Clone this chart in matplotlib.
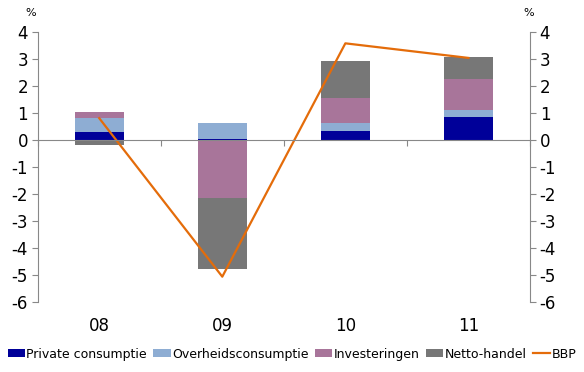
import matplotlib.pyplot as plt
import numpy as np

plt.rcParams['axes.unicode_minus'] = False

# data
years = ['08', '09', '10', '11']
private = [0.28, 0.03, 0.33, 0.86]
overheid = [0.55, 0.60, 0.31, 0.25]
investeringen = [0.20, -2.15, 0.90, 1.16]
netto = [-0.18, -2.64, 1.37, 0.82]
bbp = [0.81, -5.06, 3.58, 3.04]

series = [('Private consumptie', private, '#000099'),
          ('Overheidsconsumptie', overheid, '#8EADD3'),
          ('Investeringen', investeringen, '#A8759A'),
          ('Netto-handel', netto, '#777777')]

fig = plt.figure(figsize=(5.84, 3.72), dpi=100)
ax = fig.add_axes([0.0645, 0.188, 0.843, 0.726])
x = np.arange(len(years))

# stack positives and negatives separately
handles = []
pos_base = np.zeros(len(years))
neg_base = np.zeros(len(years))
for name, vals, col in series:
    vals = np.array(vals)
    base = np.where(vals >= 0, pos_base, neg_base)
    h = ax.bar(x, vals, 0.4, bottom=base, color=col, label=name)
    handles.append(h)
    pos_base = pos_base + np.clip(vals, 0, None)
    neg_base = neg_base + np.clip(vals, None, 0)

line, = ax.plot(x, bbp, color='#E46C0A', lw=1.6, label='BBP')
handles.append(line)

ax.set_xlim(-0.5, len(years) - 0.5)
ax.set_ylim(-6, 4)
ax.set_yticks(range(-6, 5))
ax.tick_params(axis='y', labelsize=12, length=4, color='#888888', pad=3)

for s in ['top', 'right']:
    ax.spines[s].set_visible(False)
ax.spines['left'].set_color('#888888')
ax.spines['bottom'].set_position(('data', 0))
ax.spines['bottom'].set_color('#888888')
ax.set_xticks(np.arange(-0.5, len(years)))
ax.set_xticklabels([])
ax.tick_params(axis='x', length=4, color='#888888')
for xi, lab in zip(x, years):
    ax.text(xi, -0.055, lab, transform=ax.get_xaxis_transform(),
            ha='center', va='top', fontsize=12)

ax2 = ax.twinx()
ax2.set_ylim(-6, 4)
ax2.set_yticks(range(-6, 5))
ax2.tick_params(axis='y', labelsize=12, length=4, color='#888888', pad=3)
for s in ['top', 'left', 'bottom']:
    ax2.spines[s].set_visible(False)
ax2.spines['right'].set_color('#888888')

fig.text(0.052, 0.965, '%', fontsize=8, ha='center', va='center')
fig.text(0.906, 0.965, '%', fontsize=8, ha='center', va='center')

fig.legend(handles=handles, loc='center', bbox_to_anchor=(0.5, 0.048), ncol=5,
           frameon=False, fontsize=9, handlelength=1.4, handleheight=0.6,
           handletextpad=0.1, columnspacing=0.5)

fig.savefig('out.png', dpi=100)
